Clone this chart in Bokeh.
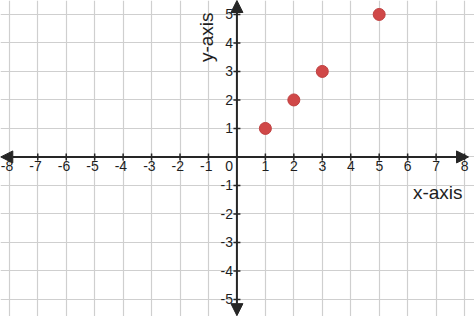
import numpy as np
from bokeh.plotting import figure
from bokeh.models import Range1d, FixedTicker, Arrow, NormalHead, Label, ColumnDataSource
from bokeh.core.properties import value
from bokeh.embed import file_html
from bokeh.resources import INLINE

# data
point_x = [1, 2, 3, 5]
point_y = [1, 2, 3, 5]
x_ticks = [-8, -7, -6, -5, -4, -3, -2, -1, 1, 2, 3, 4, 5, 6, 7, 8]
y_ticks = [-5, -4, -3, -2, -1, 1, 2, 3, 4, 5]
x_tick_labels = [str(v) for v in x_ticks]
y_tick_labels = [str(v) for v in y_ticks]
origin_label = "0"
grid_x = list(range(-9, 10))
grid_y = list(range(-6, 7))

FONT = value("Liberation Sans")
AXIS_COLOR = "#262626"
TEXT_COLOR = "#1e1e1e"

p = figure(width=474, height=316, output_backend="svg", toolbar_location=None,
           x_range=Range1d(-8.31, 8.35), y_range=Range1d(-5.60, 5.49),
           min_border=0, min_border_left=0, min_border_right=0,
           min_border_top=0, min_border_bottom=0)
p.outline_line_color = None
p.background_fill_color = "white"
p.xaxis.visible = False
p.yaxis.visible = False
p.xgrid.ticker = FixedTicker(ticks=grid_x)
p.ygrid.ticker = FixedTicker(ticks=grid_y)
for g in (p.xgrid[0], p.ygrid[0]):
    g.grid_line_color = "#cfcfcf"
    g.grid_line_width = 1.2
    g.grid_line_alpha = 1.0

# axes with arrows
head = dict(size=12, fill_color=AXIS_COLOR, line_color=AXIS_COLOR)
for xe, ye in [(8.14, 0), (-8.3, 0), (0, 5.49), (0, -5.57)]:
    p.add_layout(Arrow(x_start=0, y_start=0, x_end=xe, y_end=ye,
                       line_color=AXIS_COLOR, line_width=2,
                       end=NormalHead(**head)))

# tick marks
p.scatter(x=x_ticks, y=[0] * len(x_ticks), marker="dash", angle=np.pi / 2, size=7,
          line_color=AXIS_COLOR, line_width=1.5)
p.scatter(x=[0] * len(y_ticks), y=y_ticks, marker="dash", size=7,
          line_color=AXIS_COLOR, line_width=1.5)

# tick labels
xsrc = ColumnDataSource(dict(x=x_ticks, y=[0] * len(x_ticks), t=x_tick_labels))
p.text(x="x", y="y", text="t", source=xsrc, text_font=FONT, text_font_size="14px",
       text_align="right", text_baseline="top", x_offset=4, y_offset=4,
       text_color=TEXT_COLOR)
ysrc = ColumnDataSource(dict(x=[0] * len(y_ticks), y=y_ticks, t=y_tick_labels))
p.text(x="x", y="y", text="t", source=ysrc, text_font=FONT, text_font_size="14px",
       text_align="right", text_baseline="middle", x_offset=-4, y_offset=0,
       text_color=TEXT_COLOR)
p.text(x=[0], y=[0], text=[origin_label], text_font=FONT, text_font_size="14px",
       text_align="right", text_baseline="top", x_offset=-4, y_offset=4,
       text_color=TEXT_COLOR)

# axis titles
p.add_layout(Label(x=8, y=0, text="x-axis", text_font="Liberation Sans",
                   text_font_size="19px", text_align="right", text_baseline="alphabetic",
                   x_offset=-2, y_offset=-36, text_color=TEXT_COLOR))
p.add_layout(Label(x=0, y=4.2, text="y-axis", text_font="Liberation Sans",
                   text_font_size="19px", text_align="center", text_baseline="middle",
                   angle=np.pi / 2, x_offset=-30.5, text_color=TEXT_COLOR))

# points
p.scatter(x=point_x, y=point_y, size=12, fill_color="#d04848", line_color="#c04040",
          line_width=1)

open("out.html", "w").write(file_html(p, INLINE))
